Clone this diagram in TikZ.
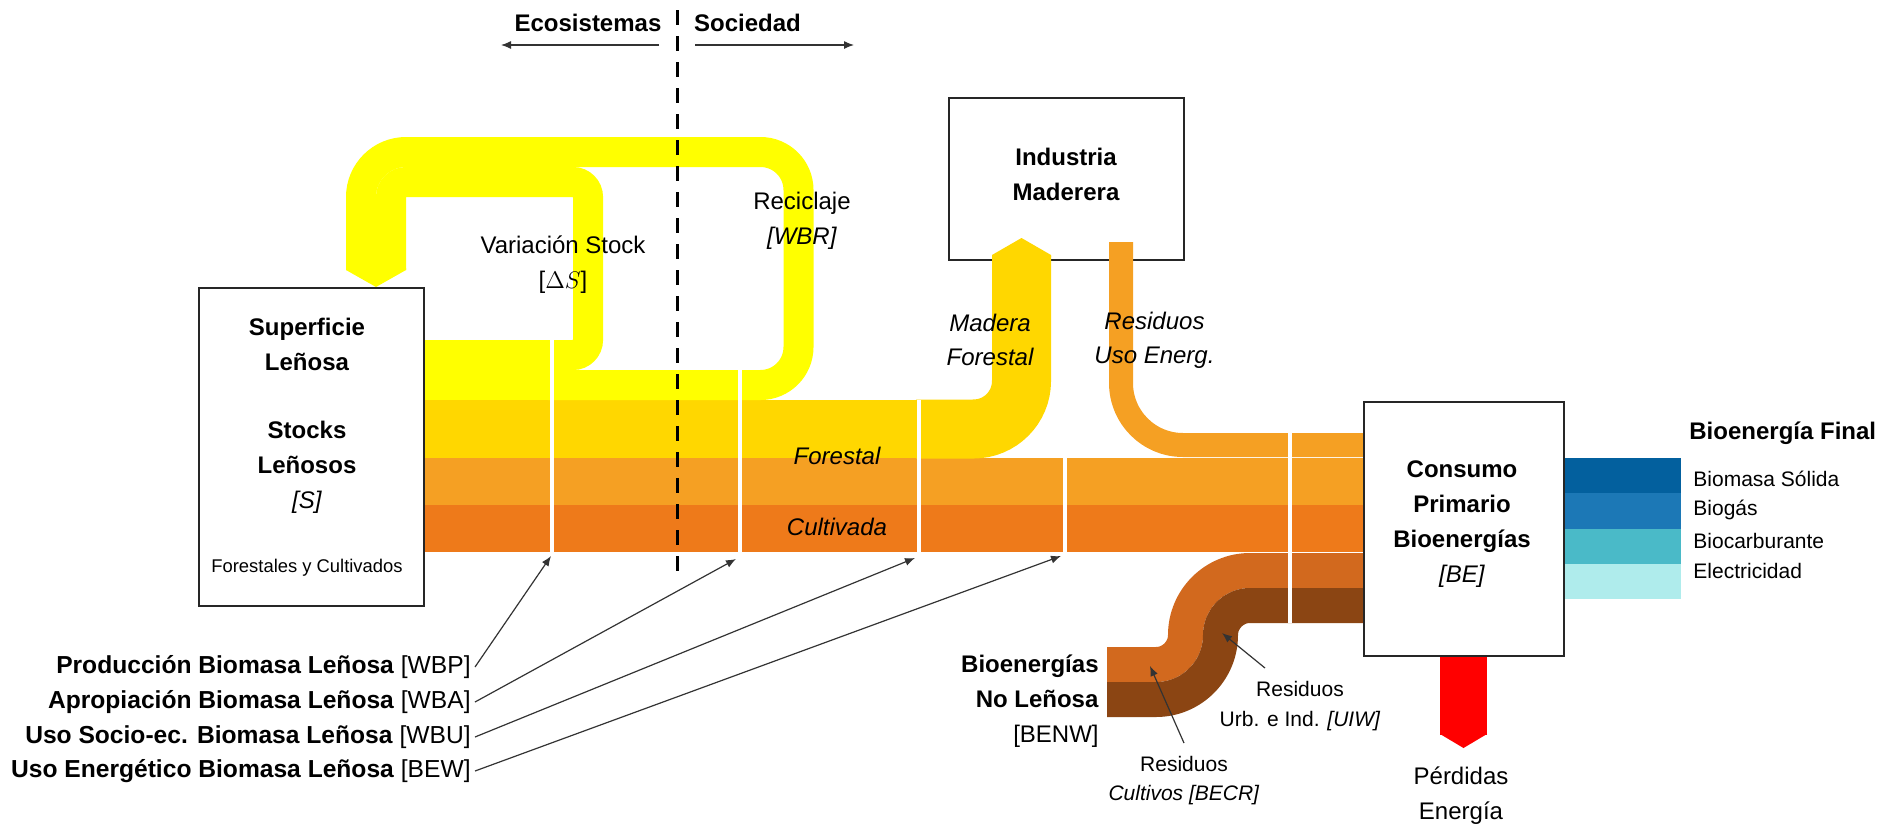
\documentclass[tikz,border=0pt]{standalone}
\usepackage{fontspec}
\setmainfont{Liberation Sans}
\usetikzlibrary{arrows.meta}
\definecolor{cYel}{HTML}{FFFF00}
\definecolor{cGold}{HTML}{FFD700}
\definecolor{cLOr}{HTML}{F5A023}
\definecolor{cOr}{HTML}{EE7A1A}
\definecolor{cBrO}{HTML}{D2691E}
\definecolor{cDBr}{HTML}{8B4513}
\definecolor{cBa}{HTML}{03609E}
\definecolor{cBb}{HTML}{1C78B6}
\definecolor{cBc}{HTML}{4ABAC8}
\definecolor{cBd}{HTML}{AFECEC}
\definecolor{cRed}{HTML}{FF0000}
\tikzset{
  box/.style={draw=black!85, line width=1pt, fill=white, inner sep=0pt},
  txt/.style={align=center, inner sep=0pt, font=\fontsize{12}{17.5}\selectfont},
  txtb/.style={align=center, inner sep=0pt, font=\fontsize{12}{17.5}\selectfont\bfseries},
  txti/.style={align=center, inner sep=0pt, font=\fontsize{12}{17}\selectfont\itshape},
  sml/.style={align=center, inner sep=0pt, font=\fontsize{10.5}{14.7}\selectfont},
  lab/.style={anchor=east, inner sep=2pt, font=\fontsize{12.3}{14}\selectfont},
  ptr/.style={draw=black!80, line width=0.6pt, -{Latex[length=5pt,width=4pt]}},
  sep/.style={draw=white, line width=2pt},
}
\begin{document}
\begin{tikzpicture}[x=0.5pt,y=-0.5pt]
\useasboundingbox (0,0) rectangle (1897,831);

% Industria box (behind the bands entering it)
\node[box, minimum width=117.5pt, minimum height=81pt] (ind) at (1066.5,179) {};

% main flow layers
\fill[cYel] (424,340) rectangle (553,400.5);
\fill[cGold] (424,400) rectangle (920,458.5);
\fill[cLOr] (424,458) rectangle (1364,505.5);
\fill[cOr] (424,505) rectangle (1364,552);

% Delta S loop and recycling loop
\draw[cYel, line width=15pt, rounded corners=7.5pt] (548,355) -- (588,355) -- (588,182) -- (391,182) -- (391,270);
\draw[cYel, line width=15pt, rounded corners=19pt] (548,385) -- (798.5,385) -- (798.5,152) -- (495,152);
\draw[cYel, line width=15pt, rounded corners=22.5pt] (500,152) -- (361,152) -- (361,270);
\fill[cYel] (346,268) -- (406,268) -- (406,270) -- (376,287) -- (346,270) -- cycle;

% Madera forestal to industry
\draw[cGold, line width=29.5pt, rounded corners=24pt] (916,429) -- (1021.5,429) -- (1021.5,256);
\fill[cGold] (992,257) -- (1051,257) -- (1051,255) -- (1021.5,238) -- (992,255) -- cycle;

% Residuos uso energetico
\draw[cLOr, line width=12pt, rounded corners=31pt] (1121,242) -- (1121,445) -- (1364,445);

% Bioenergias no lenosas
\draw[cBrO, line width=17.5pt] (1107,664.5) -- (1156,664.5) .. controls (1172.3,664.5) and (1185.5,651.3) .. (1185.5,635) .. controls (1185.5,599.4) and (1214.4,570.5) .. (1250,570.5) -- (1366,570.5);
\draw[cDBr, line width=17.5pt] (1107,699.5) -- (1156,699.5) .. controls (1191.6,699.5) and (1220.5,670.6) .. (1220.5,635) .. controls (1220.5,618.7) and (1233.7,605.5) .. (1250,605.5) -- (1366,605.5);

% final bioenergy bands
\fill[cBa] (1562,458) rectangle (1681,493.5);
\fill[cBb] (1562,493) rectangle (1681,529.5);
\fill[cBc] (1562,529) rectangle (1681,564.5);
\fill[cBd] (1562,564) rectangle (1681,599);

% losses
\fill[cRed] (1440,650) rectangle (1487,735);
\fill[cRed] (1440,734) -- (1487,734) -- (1463.5,748) -- cycle;

% separators
\coordinate (s1) at (551,556);
\coordinate (s2) at (736,559);
\coordinate (s3) at (915,558);
\coordinate (s4) at (1061,556);
\draw[sep] (552,340) -- (552,553);
\draw[sep] (740,370) -- (740,553);
\draw[sep] (919,400) -- (919,553);
\draw[sep] (1065,457) -- (1065,552);
\draw[sep] (1290,433) -- (1290,623);

% boxes
\node[box, minimum width=112.5pt, minimum height=159pt] (sup) at (311.5,447) {};
\node[box, minimum width=100pt, minimum height=127pt] (be) at (1464,529) {};

% ecosystem / society divide
\coordinate (dT) at (677,10);
\coordinate (dB) at (677,572);
\draw[black, line width=1.5pt, dash pattern=on 7.5pt off 5.5pt] (dT) -- (dB);
\node[txtb] (eco) at (588,23) {Ecosistemas};
\node[txtb] (soc) at (747.5,23) {Sociedad};
\coordinate (ecoA) at (659,45);
\coordinate (ecoB) at (501,45);
\coordinate (socA) at (695,45);
\coordinate (socB) at (854,45);
\draw[ptr] (ecoA) -- (ecoB);
\draw[ptr] (socA) -- (socB);

% texts
\node[txtb] (supt) at (307,344) {Superficie\\Leñosa};
\node[txt] (stk) at (307,467) {\textbf{Stocks}\\\textbf{Leñosos}\\\textit{[S]}};
\node[font=\fontsize{9.2}{11}\selectfont, inner sep=0pt] (fyc) at (307,568) {Forestales y Cultivados};
\node[txt] (vs) at (563,265) {Variación Stock\\{[}$\Delta S${]}};
\node[txt] (rec) at (802,220.5) {Reciclaje\\\textit{[WBR]}};
\node[txtb] (indt) at (1066,174.5) {Industria\\Maderera};
\node[txti] (mf) at (990,340) {Madera\\Forestal};
\node[txti] (rue) at (1154.5,340) {Residuos\\Uso Energ.};
\node[txti] (fo) at (837,456) {Forestal};
\node[txti] (cu) at (837,527) {Cultivada};
\node[txt] (bet) at (1462,523.7) {\textbf{Consumo}\\\textbf{Primario}\\\textbf{Bioenergías}\\\textit{[BE]}};
\node[txt] (per) at (1461,795.5) {Pérdidas\\Energía};
\node[txt, align=right, anchor=east] (benw) at (1099,701) {\textbf{Bioenergías}\\\textbf{No Leñosa}\\{[}BENW{]}};
\node[sml] (becr) at (1184,780.5) {Residuos\\\textit{Cultivos [BECR]}};
\node[sml] (uiw) at (1300,706) {Residuos\\Urb. e Ind. \textit{[UIW]}};
\coordinate (becrT) at (1150,666);
\coordinate (uiwT) at (1222,633);
\draw[ptr] (1184,743) -- (becrT);
\draw[ptr] (1265,668) -- (uiwT);

% legend
\node[anchor=west, inner sep=0pt, font=\fontsize{12}{14}\selectfont\bfseries] (bf) at (1689,433) {Bioenergía Final};
\node[anchor=west, inner sep=0pt, font=\fontsize{10.5}{12}\selectfont] (l1) at (1693,479) {Biomasa Sólida};
\node[anchor=west, inner sep=0pt, font=\fontsize{10.5}{12}\selectfont] (l2) at (1693,510) {Biogás};
\node[anchor=west, inner sep=0pt, font=\fontsize{10.5}{12}\selectfont] (l3) at (1693,541) {Biocarburante};
\node[anchor=west, inner sep=0pt, font=\fontsize{10.5}{12}\selectfont] (l4) at (1693,571) {Electricidad};

% left labels with pointers
\node[lab] (wbp) at (475,667) {\textbf{Producción Biomasa Leñosa} [WBP]};
\node[lab] (wba) at (475,702) {\textbf{Apropiación Biomasa Leñosa} [WBA]};
\node[lab] (wbu) at (475,737) {\textbf{Uso Socio-ec. Biomasa Leñosa} [WBU]};
\node[lab] (bew) at (475,771) {\textbf{Uso Energético Biomasa Leñosa} [BEW]};
\draw[ptr] (wbp.east) -- (s1);
\draw[ptr] (wba.east) -- (s2);
\draw[ptr] (wbu.east) -- (s3);
\draw[ptr] (bew.east) -- (s4);
\end{tikzpicture}
\end{document}
